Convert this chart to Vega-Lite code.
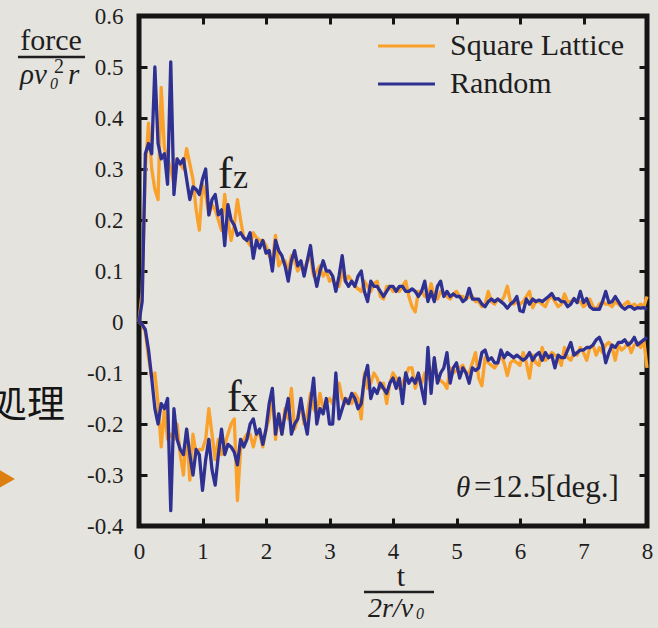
{
"$schema":"https://vega.github.io/schema/vega-lite/v6.json",
"width":508,"height":510,
"autosize":{"type":"none"},
"padding":{"left":139,"top":16,"right":11,"bottom":102},
"background":"#e5e3de",
"config":{
 "view":{"stroke":"#151515","strokeWidth":5},
 "font":"Liberation Serif",
 "style":{"guide-label":{"font":"Liberation Serif"}},
 "axis":{"domain":false,"grid":false,"tickColor":"#151515","tickWidth":3,"tickSize":-8,"labelFont":"Liberation Serif","labelFontSize":23,"labelColor":"#1e1e1e","labelFlush":false,"labelOverlap":false}
},
"resolve":{"axis":{"x":"independent","y":"independent"}},
"datasets":{"curves":[
{"t":0,"zs":0,"zr":0,"xs":0,"xr":0},
{"t":0.05,"zs":0.06,"zr":0.04,"xs":-0.005,"xr":-0.005},
{"t":0.1,"zs":0.30,"zr":0.33,"xs":-0.02,"xr":-0.015},
{"t":0.15,"zs":0.39,"zr":0.35,"xs":-0.07,"xr":-0.055},
{"t":0.2,"zs":0.30,"zr":0.33,"xs":-0.11,"xr":-0.11},
{"t":0.25,"zs":0.26,"zr":0.50,"xs":-0.10,"xr":-0.17},
{"t":0.3,"zs":0.24,"zr":0.35,"xs":-0.16,"xr":-0.20},
{"t":0.35,"zs":0.46,"zr":0.32,"xs":-0.245,"xr":-0.16},
{"t":0.4,"zs":0.34,"zr":0.33,"xs":-0.17,"xr":-0.17},
{"t":0.45,"zs":0.32,"zr":0.27,"xs":-0.23,"xr":-0.15},
{"t":0.5,"zs":0.30,"zr":0.51,"xs":-0.22,"xr":-0.37},
{"t":0.55,"zs":0.27,"zr":0.25,"xs":-0.23,"xr":-0.17},
{"t":0.6,"zs":0.32,"zr":0.32,"xs":-0.20,"xr":-0.23},
{"t":0.65,"zs":0.31,"zr":0.31,"xs":-0.26,"xr":-0.25},
{"t":0.7,"zs":0.30,"zr":0.32,"xs":-0.30,"xr":-0.26},
{"t":0.75,"zs":0.34,"zr":0.28,"xs":-0.21,"xr":-0.21},
{"t":0.8,"zs":0.31,"zr":0.24,"xs":-0.31,"xr":-0.26},
{"t":0.85,"zs":0.28,"zr":0.265,"xs":-0.22,"xr":-0.30},
{"t":0.9,"zs":0.22,"zr":0.26,"xs":-0.26,"xr":-0.25},
{"t":0.95,"zs":0.18,"zr":0.25,"xs":-0.25,"xr":-0.26},
{"t":1.0,"zs":0.27,"zr":0.28,"xs":-0.25,"xr":-0.33},
{"t":1.05,"zs":0.25,"zr":0.30,"xs":-0.23,"xr":-0.27},
{"t":1.1,"zs":0.21,"zr":0.21,"xs":-0.17,"xr":-0.23},
{"t":1.15,"zs":0.23,"zr":0.24,"xs":-0.22,"xr":-0.29},
{"t":1.2,"zs":0.22,"zr":0.25,"xs":-0.27,"xr":-0.32},
{"t":1.25,"zs":0.20,"zr":0.21,"xs":-0.23,"xr":-0.26},
{"t":1.3,"zs":0.18,"zr":0.22,"xs":-0.26,"xr":-0.21},
{"t":1.35,"zs":0.25,"zr":0.15,"xs":-0.24,"xr":-0.26},
{"t":1.4,"zs":0.20,"zr":0.23,"xs":-0.22,"xr":-0.24},
{"t":1.45,"zs":0.16,"zr":0.20,"xs":-0.20,"xr":-0.245},
{"t":1.5,"zs":0.19,"zr":0.19,"xs":-0.19,"xr":-0.255},
{"t":1.55,"zs":0.24,"zr":0.17,"xs":-0.35,"xr":-0.28},
{"t":1.6,"zs":0.20,"zr":0.175,"xs":-0.25,"xr":-0.23},
{"t":1.65,"zs":0.165,"zr":0.165,"xs":-0.23,"xr":-0.245},
{"t":1.7,"zs":0.16,"zr":0.16,"xs":-0.22,"xr":-0.23},
{"t":1.75,"zs":0.15,"zr":0.175,"xs":-0.22,"xr":-0.20},
{"t":1.8,"zs":0.175,"zr":0.125,"xs":-0.245,"xr":-0.19},
{"t":1.85,"zs":0.165,"zr":0.16,"xs":-0.22,"xr":-0.22},
{"t":1.9,"zs":0.16,"zr":0.145,"xs":-0.22,"xr":-0.21},
{"t":1.95,"zs":0.16,"zr":0.16,"xs":-0.245,"xr":-0.24},
{"t":2.0,"zs":0.15,"zr":0.135,"xs":-0.21,"xr":-0.21},
{"t":2.05,"zs":0.13,"zr":0.14,"xs":-0.19,"xr":-0.16},
{"t":2.1,"zs":0.12,"zr":0.10,"xs":-0.14,"xr":-0.13},
{"t":2.15,"zs":0.17,"zr":0.16,"xs":-0.23,"xr":-0.22},
{"t":2.2,"zs":0.11,"zr":0.14,"xs":-0.18,"xr":-0.18},
{"t":2.25,"zs":0.12,"zr":0.13,"xs":-0.22,"xr":-0.22},
{"t":2.3,"zs":0.12,"zr":0.11,"xs":-0.17,"xr":-0.18},
{"t":2.35,"zs":0.10,"zr":0.08,"xs":-0.19,"xr":-0.15},
{"t":2.4,"zs":0.13,"zr":0.12,"xs":-0.13,"xr":-0.22},
{"t":2.45,"zs":0.12,"zr":0.14,"xs":-0.21,"xr":-0.20},
{"t":2.5,"zs":0.10,"zr":0.11,"xs":-0.19,"xr":-0.19},
{"t":2.55,"zs":0.11,"zr":0.12,"xs":-0.16,"xr":-0.15},
{"t":2.6,"zs":0.10,"zr":0.09,"xs":-0.20,"xr":-0.19},
{"t":2.65,"zs":0.12,"zr":0.12,"xs":-0.18,"xr":-0.22},
{"t":2.7,"zs":0.13,"zr":0.15,"xs":-0.14,"xr":-0.16},
{"t":2.75,"zs":0.09,"zr":0.10,"xs":-0.17,"xr":-0.11},
{"t":2.8,"zs":0.10,"zr":0.07,"xs":-0.18,"xr":-0.20},
{"t":2.85,"zs":0.11,"zr":0.10,"xs":-0.14,"xr":-0.17},
{"t":2.9,"zs":0.09,"zr":0.12,"xs":-0.17,"xr":-0.18},
{"t":2.95,"zs":0.10,"zr":0.10,"xs":-0.16,"xr":-0.15},
{"t":3.0,"zs":0.08,"zr":0.10,"xs":-0.15,"xr":-0.20},
{"t":3.05,"zs":0.085,"zr":0.09,"xs":-0.16,"xr":-0.20},
{"t":3.1,"zs":0.07,"zr":0.06,"xs":-0.13,"xr":-0.10},
{"t":3.15,"zs":0.07,"zr":0.09,"xs":-0.12,"xr":-0.19},
{"t":3.2,"zs":0.10,"zr":0.13,"xs":-0.15,"xr":-0.17},
{"t":3.25,"zs":0.08,"zr":0.08,"xs":-0.16,"xr":-0.15},
{"t":3.3,"zs":0.09,"zr":0.07,"xs":-0.15,"xr":-0.16},
{"t":3.35,"zs":0.08,"zr":0.08,"xs":-0.16,"xr":-0.14},
{"t":3.4,"zs":0.07,"zr":0.07,"xs":-0.14,"xr":-0.15},
{"t":3.45,"zs":0.065,"zr":0.09,"xs":-0.15,"xr":-0.17},
{"t":3.5,"zs":0.06,"zr":0.10,"xs":-0.19,"xr":-0.16},
{"t":3.55,"zs":0.08,"zr":0.06,"xs":-0.10,"xr":-0.11},
{"t":3.6,"zs":0.07,"zr":0.04,"xs":-0.13,"xr":-0.085},
{"t":3.65,"zs":0.06,"zr":0.08,"xs":-0.12,"xr":-0.15},
{"t":3.7,"zs":0.075,"zr":0.07,"xs":-0.10,"xr":-0.13},
{"t":3.75,"zs":0.08,"zr":0.07,"xs":-0.11,"xr":-0.14},
{"t":3.8,"zs":0.05,"zr":0.06,"xs":-0.13,"xr":-0.12},
{"t":3.85,"zs":0.045,"zr":0.05,"xs":-0.12,"xr":-0.13},
{"t":3.9,"zs":0.07,"zr":0.06,"xs":-0.16,"xr":-0.14},
{"t":3.95,"zs":0.07,"zr":0.07,"xs":-0.12,"xr":-0.12},
{"t":4.0,"zs":0.06,"zr":0.07,"xs":-0.10,"xr":-0.11},
{"t":4.05,"zs":0.065,"zr":0.06,"xs":-0.11,"xr":-0.13},
{"t":4.1,"zs":0.06,"zr":0.07,"xs":-0.13,"xr":-0.11},
{"t":4.15,"zs":0.07,"zr":0.07,"xs":-0.12,"xr":-0.16},
{"t":4.2,"zs":0.08,"zr":0.06,"xs":-0.105,"xr":-0.10},
{"t":4.25,"zs":0.05,"zr":0.06,"xs":-0.09,"xr":-0.12},
{"t":4.3,"zs":0.03,"zr":0.065,"xs":-0.09,"xr":-0.11},
{"t":4.35,"zs":0.02,"zr":0.06,"xs":-0.13,"xr":-0.12},
{"t":4.4,"zs":0.06,"zr":0.05,"xs":-0.11,"xr":-0.10},
{"t":4.45,"zs":0.06,"zr":0.06,"xs":-0.12,"xr":-0.13},
{"t":4.5,"zs":0.05,"zr":0.08,"xs":-0.10,"xr":-0.16},
{"t":4.55,"zs":0.05,"zr":0.04,"xs":-0.11,"xr":-0.05},
{"t":4.6,"zs":0.075,"zr":0.06,"xs":-0.115,"xr":-0.14},
{"t":4.65,"zs":0.05,"zr":0.04,"xs":-0.075,"xr":-0.07},
{"t":4.7,"zs":0.045,"zr":0.07,"xs":-0.11,"xr":-0.12},
{"t":4.75,"zs":0.06,"zr":0.08,"xs":-0.115,"xr":-0.10},
{"t":4.8,"zs":0.055,"zr":0.05,"xs":-0.12,"xr":-0.09},
{"t":4.85,"zs":0.05,"zr":0.06,"xs":-0.13,"xr":-0.06},
{"t":4.9,"zs":0.045,"zr":0.05,"xs":-0.09,"xr":-0.12},
{"t":4.95,"zs":0.055,"zr":0.055,"xs":-0.10,"xr":-0.09},
{"t":5.0,"zs":0.06,"zr":0.05,"xs":-0.095,"xr":-0.08},
{"t":5.05,"zs":0.05,"zr":0.05,"xs":-0.09,"xr":-0.11},
{"t":5.1,"zs":0.05,"zr":0.04,"xs":-0.085,"xr":-0.09},
{"t":5.15,"zs":0.045,"zr":0.045,"xs":-0.10,"xr":-0.10},
{"t":5.2,"zs":0.05,"zr":0.066,"xs":-0.10,"xr":-0.12},
{"t":5.25,"zs":0.05,"zr":0.045,"xs":-0.08,"xr":-0.09},
{"t":5.3,"zs":0.04,"zr":0.045,"xs":-0.06,"xr":-0.095},
{"t":5.35,"zs":0.04,"zr":0.045,"xs":-0.11,"xr":-0.09},
{"t":5.4,"zs":0.03,"zr":0.035,"xs":-0.125,"xr":-0.06},
{"t":5.45,"zs":0.035,"zr":0.03,"xs":-0.07,"xr":-0.055},
{"t":5.5,"zs":0.06,"zr":0.04,"xs":-0.08,"xr":-0.075},
{"t":5.55,"zs":0.04,"zr":0.045,"xs":-0.085,"xr":-0.07},
{"t":5.6,"zs":0.035,"zr":0.04,"xs":-0.09,"xr":-0.08},
{"t":5.65,"zs":0.045,"zr":0.045,"xs":-0.08,"xr":-0.08},
{"t":5.7,"zs":0.04,"zr":0.04,"xs":-0.065,"xr":-0.055},
{"t":5.75,"zs":0.05,"zr":0.035,"xs":-0.08,"xr":-0.07},
{"t":5.8,"zs":0.07,"zr":0.027,"xs":-0.105,"xr":-0.06},
{"t":5.85,"zs":0.04,"zr":0.035,"xs":-0.08,"xr":-0.065},
{"t":5.9,"zs":0.035,"zr":0.04,"xs":-0.075,"xr":-0.07},
{"t":5.95,"zs":0.04,"zr":0.05,"xs":-0.08,"xr":-0.065},
{"t":6.0,"zs":0.035,"zr":0.022,"xs":-0.085,"xr":-0.07},
{"t":6.05,"zs":0.04,"zr":0.02,"xs":-0.06,"xr":-0.075},
{"t":6.1,"zs":0.05,"zr":0.045,"xs":-0.08,"xr":-0.07},
{"t":6.15,"zs":0.06,"zr":0.035,"xs":-0.11,"xr":-0.06},
{"t":6.2,"zs":0.028,"zr":0.045,"xs":-0.065,"xr":-0.075},
{"t":6.25,"zs":0.04,"zr":0.04,"xs":-0.08,"xr":-0.065},
{"t":6.3,"zs":0.04,"zr":0.043,"xs":-0.085,"xr":-0.06},
{"t":6.35,"zs":0.035,"zr":0.04,"xs":-0.05,"xr":-0.075},
{"t":6.4,"zs":0.03,"zr":0.045,"xs":-0.075,"xr":-0.06},
{"t":6.45,"zs":0.045,"zr":0.05,"xs":-0.07,"xr":-0.07},
{"t":6.5,"zs":0.05,"zr":0.056,"xs":-0.06,"xr":-0.065},
{"t":6.55,"zs":0.04,"zr":0.045,"xs":-0.065,"xr":-0.09},
{"t":6.6,"zs":0.03,"zr":0.046,"xs":-0.07,"xr":-0.065},
{"t":6.65,"zs":0.035,"zr":0.04,"xs":-0.085,"xr":-0.07},
{"t":6.7,"zs":0.055,"zr":0.04,"xs":-0.05,"xr":-0.07},
{"t":6.75,"zs":0.04,"zr":0.03,"xs":-0.07,"xr":-0.055},
{"t":6.8,"zs":0.04,"zr":0.035,"xs":-0.075,"xr":-0.04},
{"t":6.85,"zs":0.045,"zr":0.046,"xs":-0.06,"xr":-0.065},
{"t":6.9,"zs":0.04,"zr":0.038,"xs":-0.065,"xr":-0.06},
{"t":6.95,"zs":0.04,"zr":0.06,"xs":-0.05,"xr":-0.055},
{"t":7.0,"zs":0.03,"zr":0.038,"xs":-0.06,"xr":-0.055},
{"t":7.05,"zs":0.035,"zr":0.046,"xs":-0.075,"xr":-0.05},
{"t":7.1,"zs":0.045,"zr":0.03,"xs":-0.05,"xr":-0.05},
{"t":7.15,"zs":0.03,"zr":0.025,"xs":-0.045,"xr":-0.045},
{"t":7.2,"zs":0.025,"zr":0.025,"xs":-0.065,"xr":-0.035},
{"t":7.25,"zs":0.035,"zr":0.025,"xs":-0.05,"xr":-0.03},
{"t":7.3,"zs":0.04,"zr":0.04,"xs":-0.06,"xr":-0.045},
{"t":7.35,"zs":0.035,"zr":0.06,"xs":-0.045,"xr":-0.08},
{"t":7.4,"zs":0.035,"zr":0.038,"xs":-0.04,"xr":-0.06},
{"t":7.45,"zs":0.03,"zr":0.04,"xs":-0.05,"xr":-0.045},
{"t":7.5,"zs":0.04,"zr":0.05,"xs":-0.075,"xr":-0.05},
{"t":7.55,"zs":0.035,"zr":0.04,"xs":-0.045,"xr":-0.04},
{"t":7.6,"zs":0.03,"zr":0.03,"xs":-0.055,"xr":-0.04},
{"t":7.65,"zs":0.035,"zr":0.025,"xs":-0.05,"xr":-0.035},
{"t":7.7,"zs":0.04,"zr":0.03,"xs":-0.04,"xr":-0.045},
{"t":7.75,"zs":0.03,"zr":0.03,"xs":-0.06,"xr":-0.04},
{"t":7.8,"zs":0.035,"zr":0.025,"xs":-0.045,"xr":-0.03},
{"t":7.85,"zs":0.03,"zr":0.028,"xs":-0.04,"xr":-0.045},
{"t":7.9,"zs":0.035,"zr":0.027,"xs":-0.05,"xr":-0.04},
{"t":7.95,"zs":0.03,"zr":0.028,"xs":-0.035,"xr":-0.035},
{"t":8.0,"zs":0.05,"zr":0.025,"xs":-0.09,"xr":-0.03}
],
"legendRows":[
{"s":"Square Lattice","t":3.764,"t2":4.661,"v":0.5412,"tv":0.5235},
{"s":"Random","t":3.764,"t2":4.661,"v":0.4667,"tv":0.449}
]},
"layer":[
{"data":{"name":"curves"},"transform":[{"fold":["zs","xs"],"as":["k","v"]}],
 "mark":{"type":"line","strokeWidth":3.3,"strokeJoin":"round"},
 "encoding":{
  "x":{"field":"t","type":"quantitative","scale":{"domain":[0,8],"nice":false,"zero":false},"axis":{"title":null,"values":[0,1,2,3,4,5,6,7,8],"labelPadding":22,"labelFont":"Liberation Serif","labelFontSize":23}},
  "y":{"field":"v","type":"quantitative","scale":{"domain":[-0.4,0.6],"nice":false,"zero":false},"axis":{"title":null,"values":[-0.4,-0.3,-0.2,-0.1,0,0.1,0.2,0.3,0.4,0.5,0.6],"labelExpr":"toString(round(datum.value*10)/10)","labelPadding":24,"labelFont":"Liberation Serif","labelFontSize":23}},
  "detail":{"field":"k"},
  "color":{"datum":"Square Lattice","scale":{"domain":["Square Lattice","Random"],"range":["#f9a12b","#2e3192"]},"legend":null}
 }},
{"data":{"name":"curves"},"transform":[{"fold":["zr","xr"],"as":["k","v"]}],
 "mark":{"type":"line","strokeWidth":3.3,"strokeJoin":"round"},
 "encoding":{
  "x":{"field":"t","type":"quantitative","scale":{"domain":[0,8],"nice":false,"zero":false},"axis":null},
  "y":{"field":"v","type":"quantitative","scale":{"domain":[-0.4,0.6],"nice":false,"zero":false},"axis":null},
  "detail":{"field":"k"},
  "color":{"datum":"Random","legend":null}
 }},
{"data":{"name":"curves"},"mark":{"type":"point","opacity":0},
 "encoding":{
  "x":{"field":"t","type":"quantitative","scale":{"domain":[0,8],"nice":false,"zero":false},"axis":{"orient":"top","labels":false,"title":null,"values":[0,1,2,3,4,5,6,7,8]}},
  "y":{"field":"zr","type":"quantitative","scale":{"domain":[-0.4,0.6],"nice":false,"zero":false},"axis":{"orient":"right","labels":false,"title":null,"values":[-0.4,-0.3,-0.2,-0.1,0,0.1,0.2,0.3,0.4,0.5,0.6]}}
 }},
{"data":{"name":"legendRows"},
 "mark":{"type":"rule","strokeWidth":3},
 "encoding":{
  "x":{"field":"t","type":"quantitative","scale":{"domain":[0,8],"nice":false,"zero":false},"axis":null},
  "x2":{"field":"t2"},
  "y":{"field":"v","type":"quantitative","scale":{"domain":[-0.4,0.6],"nice":false,"zero":false},"axis":null},
  "color":{"field":"s","type":"nominal","legend":null}
 }},
{"data":{"name":"legendRows"},
 "mark":{"type":"text","font":"Liberation Serif","fontSize":30,"align":"left","baseline":"alphabetic","color":"#1e1e1e"},
 "encoding":{
  "x":{"datum":4.898,"type":"quantitative","scale":{"domain":[0,8],"nice":false,"zero":false},"axis":null},
  "y":{"field":"tv","type":"quantitative","scale":{"domain":[-0.4,0.6],"nice":false,"zero":false},"axis":null},
  "text":{"field":"s"}
 }},
{"data":{"values":[{"t":-1.906,"t2":-0.85,"v":0.5196},{"t":3.543,"t2":4.646,"v":-0.5294}]},
 "mark":{"type":"rule","strokeWidth":2.5,"color":"#1e1e1e"},
 "encoding":{
  "x":{"field":"t","type":"quantitative","scale":{"domain":[0,8],"nice":false,"zero":false},"axis":null},
  "x2":{"field":"t2"},
  "y":{"field":"v","type":"quantitative","scale":{"domain":[-0.4,0.6],"nice":false,"zero":false},"axis":null}
 }},
{"data":{"values":[{"t":1.244,"v":0.2627,"s":"f"},{"t":1.386,"v":-0.1745,"s":"f"}]},
 "mark":{"type":"text","font":"Liberation Serif","fontSize":44,"align":"left","baseline":"alphabetic","color":"#1e1e1e"},
 "encoding":{
  "x":{"field":"t","type":"quantitative","scale":{"domain":[0,8],"nice":false,"zero":false},"axis":null},
  "y":{"field":"v","type":"quantitative","scale":{"domain":[-0.4,0.6],"nice":false,"zero":false},"axis":null},
  "text":{"field":"s"}
 }},
{"data":{"values":[{"t":1.48,"v":0.2627,"s":"z"},{"t":1.606,"v":-0.1745,"s":"x"}]},
 "mark":{"type":"text","font":"Liberation Serif","fontSize":34,"align":"left","baseline":"alphabetic","color":"#1e1e1e"},
 "encoding":{
  "x":{"field":"t","type":"quantitative","scale":{"domain":[0,8],"nice":false,"zero":false},"axis":null},
  "y":{"field":"v","type":"quantitative","scale":{"domain":[-0.4,0.6],"nice":false,"zero":false},"axis":null},
  "text":{"field":"s"}
 }},
{"data":{"values":[{"t":-1.386,"v":0.5333,"s":"force"},{"t":4.126,"v":-0.5176,"s":"t"}]},
 "mark":{"type":"text","font":"Liberation Serif","fontSize":30,"align":"center","baseline":"alphabetic","color":"#1e1e1e"},
 "encoding":{
  "x":{"field":"t","type":"quantitative","scale":{"domain":[0,8],"nice":false,"zero":false},"axis":null},
  "y":{"field":"v","type":"quantitative","scale":{"domain":[-0.4,0.6],"nice":false,"zero":false},"axis":null},
  "text":{"field":"s"}
 }},
{"data":{"values":[{"t":5.276,"v":-0.3431,"s":"=12.5[deg.]"}]},
 "mark":{"type":"text","font":"Liberation Serif","fontSize":31,"align":"left","baseline":"alphabetic","color":"#1e1e1e"},
 "encoding":{
  "x":{"field":"t","type":"quantitative","scale":{"domain":[0,8],"nice":false,"zero":false},"axis":null},
  "y":{"field":"v","type":"quantitative","scale":{"domain":[-0.4,0.6],"nice":false,"zero":false},"axis":null},
  "text":{"field":"s"}
 }},
{"data":{"values":[{"t":-1.874,"v":0.4667,"s":"ρv"},{"t":-1.118,"v":0.4667,"s":"r"},{"t":4.992,"v":-0.3431,"s":"θ"}]},
 "mark":{"type":"text","font":"Liberation Serif","fontSize":29,"fontStyle":"italic","align":"left","baseline":"alphabetic","color":"#1e1e1e"},
 "encoding":{
  "x":{"field":"t","type":"quantitative","scale":{"domain":[0,8],"nice":false,"zero":false},"axis":null},
  "y":{"field":"v","type":"quantitative","scale":{"domain":[-0.4,0.6],"nice":false,"zero":false},"axis":null},
  "text":{"field":"s"}
 }},
{"data":{"values":[{"t":3.606,"v":-0.5784,"s":"2r/v"}]},
 "mark":{"type":"text","font":"Liberation Serif","fontSize":28,"fontStyle":"italic","align":"left","baseline":"alphabetic","color":"#1e1e1e"},
 "encoding":{
  "x":{"field":"t","type":"quantitative","scale":{"domain":[0,8],"nice":false,"zero":false},"axis":null},
  "y":{"field":"v","type":"quantitative","scale":{"domain":[-0.4,0.6],"nice":false,"zero":false},"axis":null},
  "text":{"field":"s"}
 }},
{"data":{"values":[{"t":-1.402,"v":0.4569,"s":"0"},{"t":4.362,"v":-0.5824,"s":"0"}]},
 "mark":{"type":"text","font":"Liberation Serif","fontSize":16,"fontStyle":"italic","align":"left","baseline":"alphabetic","color":"#1e1e1e"},
 "encoding":{
  "x":{"field":"t","type":"quantitative","scale":{"domain":[0,8],"nice":false,"zero":false},"axis":null},
  "y":{"field":"v","type":"quantitative","scale":{"domain":[-0.4,0.6],"nice":false,"zero":false},"axis":null},
  "text":{"field":"s"}
 }},
{"data":{"values":[{"t":-1.339,"v":0.4882,"s":"2"}]},
 "mark":{"type":"text","font":"Liberation Serif","fontSize":20,"align":"left","baseline":"alphabetic","color":"#1e1e1e"},
 "encoding":{
  "x":{"field":"t","type":"quantitative","scale":{"domain":[0,8],"nice":false,"zero":false},"axis":null},
  "y":{"field":"v","type":"quantitative","scale":{"domain":[-0.4,0.6],"nice":false,"zero":false},"axis":null},
  "text":{"field":"s"}
 }},
{"data":{"values":[{"t":-1.165,"v":-0.1647,"s":"処理"}]},
 "mark":{"type":"text","font":"Noto Sans CJK JP","fontSize":38,"align":"right","baseline":"middle","color":"#151515"},
 "encoding":{
  "x":{"field":"t","type":"quantitative","scale":{"domain":[0,8],"nice":false,"zero":false},"axis":null},
  "y":{"field":"v","type":"quantitative","scale":{"domain":[-0.4,0.6],"nice":false,"zero":false},"axis":null},
  "text":{"field":"s"}
 }},
{"data":{"values":[{"t":-2.172,"v":-0.3078}]},
 "mark":{"type":"point","shape":"triangle-right","size":1024,"filled":true,"opacity":1,"color":"#dc7f10"},
 "encoding":{
  "x":{"field":"t","type":"quantitative","scale":{"domain":[0,8],"nice":false,"zero":false},"axis":null},
  "y":{"field":"v","type":"quantitative","scale":{"domain":[-0.4,0.6],"nice":false,"zero":false},"axis":null}
 }}
]
}
